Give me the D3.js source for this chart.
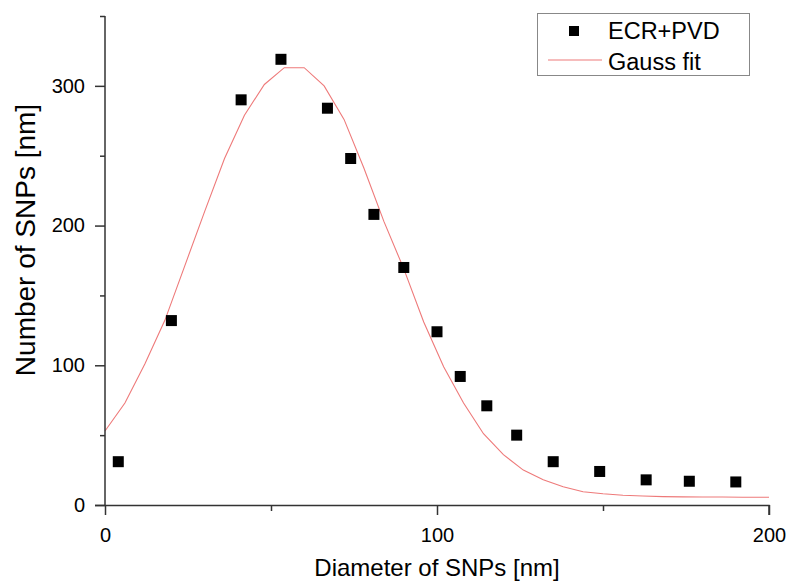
<!DOCTYPE html>
<html>
<head>
<meta charset="utf-8">
<script src="https://cdn.jsdelivr.net/npm/d3@7"></script>
<style>
  body { margin: 0; background: #fff; }
  svg { display: block; font-family: "Liberation Sans", Arial, sans-serif; }
</style>
</head>
<body>
<svg width="786" height="581"></svg>
<script>
'use strict'

// measured points (ECR+PVD)
const diameters = [4, 20, 41, 53, 67, 74, 81, 90, 100, 107, 115, 124, 135, 149, 163, 176, 190];
const counts = [31, 132, 290, 319, 284, 248, 208, 170, 124, 92, 71, 50, 31, 24, 18, 17, 16.5];

// Gauss fit curve
const fitX = [0, 6, 12, 18, 24, 30, 36, 42, 48, 54, 60, 66, 72, 78, 84, 90, 96, 102, 108,
  114, 120, 126, 132, 138, 144, 150, 156, 162, 168, 174, 180, 186, 192, 198, 200];
const fitY = [53, 73, 101, 132, 171, 210, 248, 279, 301, 313, 313, 300, 276, 241, 203, 169, 131, 99, 73,
  51, 36, 25, 18, 13, 9.5, 8, 7, 6.4, 6, 5.8, 5.7, 5.7, 5.6, 5.6, 5.6];

const xTicks = [0, 50, 100, 150, 200];
const yTicks = [0, 50, 100, 150, 200, 250, 300, 350];

const X0 = 105, X1 = 769, Y0 = 505, Y1 = 16;
const AXIS = '#333';

const svg = d3.select('svg');

const x = d3.scaleLinear().domain([0, 200]).range([X0, X1]);
const y = d3.scaleLinear().domain([0, 350]).range([Y0, Y1]);

// fit curve
const line = d3.line()
  .x(d => x(d[0]))
  .y(d => y(d[1]));

svg.append('path')
  .datum(fitX.map((v, i) => [v, fitY[i]]))
  .attr('d', line)
  .attr('fill', 'none')
  .attr('stroke', '#ee7a7a')
  .attr('stroke-width', 1.1);

// points
const S = 11;
svg.selectAll('rect.pt')
  .data(diameters.map((v, i) => [v, counts[i]]))
  .join('rect')
  .attr('class', 'pt')
  .attr('x', d => x(d[0]) - S / 2)
  .attr('y', d => y(d[1]) - S / 2)
  .attr('width', S)
  .attr('height', S)
  .attr('fill', '#000');

// axes
const xAxis = d3.axisBottom(x)
  .tickValues(xTicks)
  .tickSize(10)
  .tickPadding(13)
  .tickFormat(d => d % 100 === 0 ? d : '');

const gx = svg.append('g')
  .attr('transform', `translate(0,${Y0})`)
  .call(xAxis);

const yAxis = d3.axisLeft(y)
  .tickValues(yTicks)
  .tickSize(10)
  .tickPadding(10)
  .tickFormat(d => d % 100 === 0 ? d : '');

const gy = svg.append('g')
  .attr('transform', `translate(${X0},0)`)
  .call(yAxis);

[gx, gy].forEach(g => {
  g.select('.domain').attr('stroke', AXIS).attr('stroke-width', 1.5);
  g.selectAll('.tick line').attr('stroke', AXIS).attr('stroke-width', 1.5);
  g.selectAll('.tick text')
    .attr('fill', '#000')
    .style('font-size', '20px')
    .style('font-family', '"Liberation Sans", Arial, sans-serif');
});
gx.select('.domain').attr('d', `M${X0 - 10},0.5H${X1}V10`);
gy.select('.domain').attr('d', `M0,${Y1}V${Y0}`);
gx.selectAll('.tick line').attr('y2', d => d % 100 === 0 ? 10 : 6);
gy.selectAll('.tick line').attr('x2', d => d % 100 === 0 ? -10 : -5);

// axis titles
svg.append('text')
  .attr('x', x(100))
  .attr('y', 576)
  .attr('text-anchor', 'middle')
  .style('font-size', '24px')
  .text('Diameter of SNPs [nm]');

svg.append('text')
  .attr('transform', `translate(35,${240}) rotate(-90)`)
  .attr('text-anchor', 'middle')
  .style('font-size', '28px')
  .text('Number of SNPs [nm]');

// legend
const lg = svg.append('g');
lg.append('rect')
  .attr('x', 537.5).attr('y', 13.5)
  .attr('width', 212).attr('height', 62)
  .attr('fill', '#fff')
  .attr('stroke', '#888')
  .attr('stroke-width', 1);
lg.append('rect')
  .attr('x', 574 - 5).attr('y', 31 - 5)
  .attr('width', 10).attr('height', 10)
  .attr('fill', '#000');
lg.append('line')
  .attr('x1', 548).attr('x2', 602)
  .attr('y1', 60).attr('y2', 60)
  .attr('stroke', '#ee7a7a')
  .attr('stroke-width', 1.1);
lg.append('text')
  .attr('x', 608).attr('y', 39)
  .style('font-size', '23.5px')
  .text('ECR+PVD');
lg.append('text')
  .attr('x', 608).attr('y', 70)
  .style('font-size', '23.5px')
  .text('Gauss fit');
</script>
</body>
</html>
